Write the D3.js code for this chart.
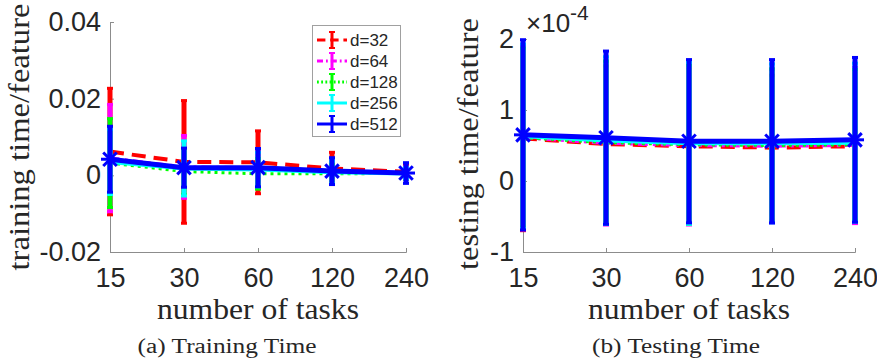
<!DOCTYPE html>
<html>
<head>
<meta charset="utf-8">
<script src="https://cdn.jsdelivr.net/npm/d3@7"></script>
<style>
body { margin: 0; background: #fff; }
</style>
</head>
<body>
<svg id="fig" width="877" height="362"></svg>
<script>
// number of tasks on the x axis
var tasks = [15, 30, 60, 120, 240];
var dims = ["d=32", "d=64", "d=128", "d=256", "d=512"];
var colors = ["#ff0000", "#ff00ff", "#00ff00", "#00ffff", "#0000ff"];
var dashes = ["14,8", "10,5,3,5", "3,4", null, null];
var widths = [4, 3, 3, 4, 5];

// training time / feature (mean and half error bar), one row per d
var trainMean = [
  [0.0062, 0.0035, 0.0034, 0.0018, 0.0009],
  [0.0045, 0.0022, 0.0020, 0.0012, 0.0007],
  [0.0032, 0.0010, 0.0004, 0.0004, 0.0005],
  [0.0035, 0.0018, 0.0015, 0.0008, 0.0005],
  [0.0042, 0.0020, 0.0020, 0.0011, 0.0006]
];
var trainErr = [
  [0.0165, 0.0160, 0.0082, 0.0042, 0.0020],
  [0.0140, 0.0082, 0.0050, 0.0030, 0.0015],
  [0.0116, 0.0060, 0.0040, 0.0025, 0.0012],
  [0.0085, 0.0072, 0.0045, 0.0030, 0.0015],
  [0.0086, 0.0051, 0.0050, 0.0035, 0.0027]
];

// testing time / feature, in units of 1e-4
var testMean = [
  [0.60, 0.52, 0.49, 0.47, 0.49],
  [0.61, 0.53, 0.50, 0.49, 0.50],
  [0.61, 0.54, 0.51, 0.50, 0.51],
  [0.63, 0.57, 0.53, 0.53, 0.54],
  [0.65, 0.61, 0.56, 0.56, 0.58]
];
var testErr = [
  [1.30, 1.10, 1.10, 1.02, 1.08],
  [1.30, 1.15, 1.12, 1.08, 1.10],
  [1.26, 1.15, 1.12, 1.08, 1.06],
  [1.30, 1.18, 1.14, 1.12, 1.12],
  [1.34, 1.22, 1.15, 1.15, 1.16]
];

var trainTicks = [-0.02, 0, 0.02, 0.04];
var trainTickLabels = ["-0.02", "0", "0.02", "0.04"];
var testTicks = [-1, 0, 1, 2];
var testTickLabels = ["-1", "0", "1", "2"];

var SANS = "'Liberation Sans', Arial, sans-serif";
var SERIF = "'Liberation Serif', 'DejaVu Serif', serif";

var svg = d3.select("#fig");

function panel(p) {
  var g = svg.append("g");
  var x = d3.scaleLog().base(2).domain([15, 240]).range([p.left, p.right]);
  var y = d3.scaleLinear().domain(p.domain).range([p.bottom, p.top]);

  var xAxis = g.append("g")
    .attr("transform", "translate(0," + p.bottom + ")")
    .call(d3.axisBottom(x).tickValues(tasks).tickFormat(d3.format("d")).tickSize(-4).tickPadding(16));
  var yAxis = g.append("g")
    .attr("transform", "translate(" + p.left + ",0)")
    .call(d3.axisLeft(y).tickValues(p.ticks).tickFormat(function(d, i) { return p.tickLabels[i]; }).tickSize(-4).tickPadding(9));
  [xAxis, yAxis].forEach(function(a) {
    a.attr("font-family", SANS).attr("font-size", 27);
    a.selectAll("text").attr("fill", "#262626");
    a.select(".domain").attr("stroke", "#8c8c8c");
    a.selectAll(".tick line").attr("stroke", "#8c8c8c");
  });

  for (var s = 0; s < dims.length; s++) {
    var pts = tasks.map(function(t, i) { return {t: t, m: p.mean[s][i], e: p.err[s][i]}; });
    var sg = g.append("g");
    // error bars
    pts.forEach(function(d) {
      sg.append("line")
        .attr("x1", x(d.t)).attr("x2", x(d.t))
        .attr("y1", y(d.m - d.e)).attr("y2", y(d.m + d.e))
        .attr("stroke", colors[s]).attr("stroke-width", 5);
      [d.m - d.e, d.m + d.e].forEach(function(v) {
        sg.append("line")
          .attr("x1", x(d.t) - 3).attr("x2", x(d.t) + 3)
          .attr("y1", y(v)).attr("y2", y(v))
          .attr("stroke", colors[s]).attr("stroke-width", 3);
      });
    });
    sg.append("path")
      .datum(pts)
      .attr("fill", "none")
      .attr("stroke", colors[s])
      .attr("stroke-width", widths[s])
      .attr("stroke-dasharray", dashes[s])
      .attr("d", d3.line().x(function(d) { return x(d.t); }).y(function(d) { return y(d.m); }));
    if (s == 4) {
      pts.forEach(function(d) {
        var cx = x(d.t), cy = y(d.m), r = 9;
        [[r, 0], [0, r], [r * 0.75, r * 0.75], [r * 0.75, -r * 0.75]].forEach(function(v) {
          sg.append("line")
            .attr("x1", cx - v[0]).attr("x2", cx + v[0])
            .attr("y1", cy - v[1]).attr("y2", cy + v[1])
            .attr("stroke", colors[s]).attr("stroke-width", 3);
        });
      });
    }
  }

  g.append("text")
    .attr("x", (p.left + p.right) / 2).attr("y", 319)
    .attr("text-anchor", "middle")
    .attr("font-family", SERIF).attr("font-size", 30).attr("fill", "#262626")
    .attr("textLength", 202).attr("lengthAdjust", "spacingAndGlyphs")
    .text("number of tasks");
  g.append("text")
    .attr("transform", "translate(" + p.labelX + "," + p.labelY + ") rotate(-90)")
    .attr("text-anchor", "middle")
    .attr("font-family", SERIF).attr("font-size", 30).attr("fill", "#262626")
    .attr("textLength", p.labelLen).attr("lengthAdjust", "spacingAndGlyphs")
    .text(p.ylabel);
  g.append("text")
    .attr("x", p.capX).attr("y", 353)
    .attr("text-anchor", "middle")
    .attr("font-family", SERIF).attr("font-size", 20).attr("fill", "#262626")
    .attr("textLength", p.capLen).attr("lengthAdjust", "spacingAndGlyphs")
    .text(p.caption);
  return g;
}

panel({
  left: 110, right: 406, top: 22, bottom: 252,
  domain: [-0.02, 0.04], ticks: trainTicks, tickLabels: trainTickLabels,
  mean: trainMean, err: trainErr,
  ylabel: "training time/feature", labelX: 29, labelY: 137, labelLen: 267,
  caption: "(a) Training Time", capX: 227, capLen: 179
});

panel({
  left: 523, right: 855, top: 39, bottom: 252,
  domain: [-1, 2], ticks: testTicks, tickLabels: testTickLabels,
  mean: testMean, err: testErr,
  ylabel: "testing time/feature", labelX: 478, labelY: 144, labelLen: 252,
  caption: "(b) Testing Time", capX: 676, capLen: 168
});

// exponent label of the right axis
var ex = svg.append("text").attr("x", 526).attr("y", 32)
  .attr("font-family", SANS).attr("fill", "#262626");
ex.append("tspan").attr("font-size", 26).text("\u00d710");
ex.append("tspan").attr("dy", -12).attr("font-size", 21).text("-4");

// legend
var lg = svg.append("g");
lg.append("rect").attr("x", 312.5).attr("y", 25.5).attr("width", 88).attr("height", 111)
  .attr("fill", "#fff").attr("stroke", "#a0a0a0").attr("stroke-width", 1);
var legY = d3.scalePoint().domain(dims).range([40, 124]);
dims.forEach(function(name, s) {
  var yy = legY(name);
  lg.append("line").attr("x1", 317).attr("x2", 347).attr("y1", yy).attr("y2", yy)
    .attr("stroke", colors[s]).attr("stroke-width", 3)
    .attr("stroke-dasharray", dashes[s] ? dashes[s].split(",").map(function(v) { return v * 0.6; }).join(",") : null);
  lg.append("line").attr("x1", 332).attr("x2", 332).attr("y1", yy - 8).attr("y2", yy + 8)
    .attr("stroke", colors[s]).attr("stroke-width", 3);
  [yy - 8, yy + 8].forEach(function(v) {
    lg.append("line").attr("x1", 329).attr("x2", 335).attr("y1", v).attr("y2", v)
      .attr("stroke", colors[s]).attr("stroke-width", 2);
  });
  lg.append("text").attr("x", 350).attr("y", yy).attr("dy", "0.36em")
    .attr("font-family", SANS).attr("font-size", 17)
    .attr("fill", "#262626").text(name);
});
</script>
</body>
</html>
